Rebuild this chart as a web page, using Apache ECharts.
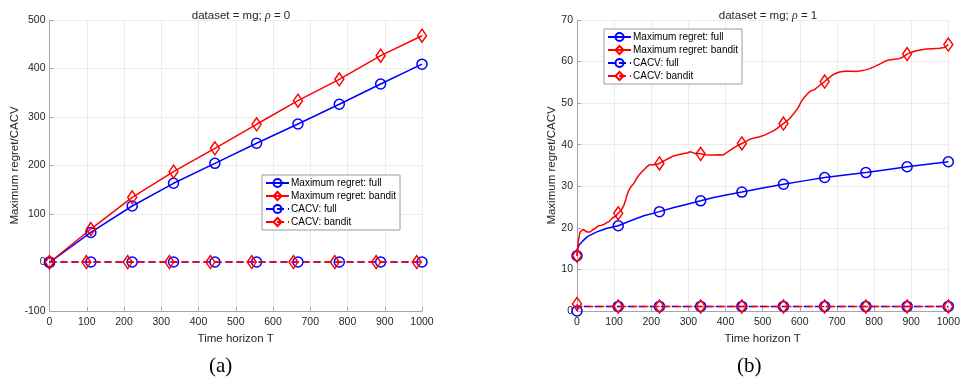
<!DOCTYPE html>
<html><head><meta charset="utf-8">
<script src="https://cdn.jsdelivr.net/npm/echarts@6/dist/echarts.min.js"></script>
<style>html,body{margin:0;padding:0;background:#fff}#c{width:963px;height:387px}</style>
</head><body><div id="c"></div>
<script>
// ---------- Data: panel (a) dataset = mg, rho = 0 ----------
const aRegretT = [0, 111, 222, 333, 444, 556, 667, 778, 889, 1000];
const aRegretFull = [0, 62, 116.5, 163.3, 204.5, 245.8, 285.6, 326.2, 368, 409];
const aRegretBandit = [0, 69, 134.4, 187.3, 235.4, 285, 333.6, 377.7, 426.4, 467.6];
const aCacvFullT = [0, 111, 222, 333, 444, 556, 667, 778, 889, 1000];
const aCacvFullV = [1, 1, 1, 1, 1, 1, 1, 1, 1, 1];
const aCacvBanditT = [0, 99, 210, 322, 432, 543, 655, 766, 877, 986, 1000];
const aCacvBanditV = [1, 1, 1, 1, 1, 1, 1, 1, 1, 1, 1];
const aCacvBanditMarks = [0, 99, 210, 322, 432, 543, 655, 766, 877, 986];

// ---------- Data: panel (b) dataset = mg, rho = 1 ----------
const bFullT = [0, 2, 5, 15, 28, 41, 55, 68, 81, 111, 144, 180, 222, 261, 297, 333, 368, 395, 444, 500, 556, 611, 667, 722, 778, 833, 889, 944, 1000];
const bFullV = [13.3, 15.0, 15.8, 16.8, 17.9, 18.5, 19.1, 19.5, 19.9, 20.5, 21.7, 22.9, 23.9, 24.9, 25.7, 26.5, 27.3, 27.8, 28.6, 29.6, 30.5, 31.3, 32.1, 32.7, 33.3, 34.0, 34.7, 35.3, 35.9];
const bBanditT = [0, 3, 5, 8, 12, 16, 21, 28, 35, 42, 50, 55, 59, 65, 72, 79, 86, 92, 97, 104, 108, 111, 116, 122, 127, 131, 135, 140, 146, 153, 160, 167, 173, 180, 187, 194, 200, 207, 214, 222, 230, 238, 249, 260, 273, 287, 296, 305, 312, 318, 325, 333, 345, 357, 370, 384, 393, 405, 420, 432, 444, 455, 465, 478, 492, 505, 519, 530, 540, 548, 556, 564, 573, 584, 595, 604, 613, 622, 631, 640, 650, 658, 667, 678, 689, 698, 707, 716, 725, 740, 752, 765, 777, 789, 801, 815, 828, 840, 850, 860, 868, 878, 889, 900, 913, 926, 940, 958, 976, 990, 995, 1000];
const bBanditV = [13.3, 16.5, 17.5, 19.0, 19.3, 19.6, 19.3, 19.0, 19.0, 19.5, 19.9, 20.4, 20.8, 20.6, 20.8, 21.2, 21.5, 22.0, 22.5, 22.8, 23.0, 23.5, 24.0, 24.7, 25.6, 26.7, 28.0, 29.1, 30.0, 30.7, 31.8, 32.7, 33.3, 33.9, 34.6, 35.1, 35.2, 35.2, 35.3, 35.5, 35.9, 36.3, 36.8, 37.3, 37.6, 37.9, 38.0, 38.3, 38.1, 37.9, 37.9, 37.8, 37.6, 37.5, 37.5, 37.6, 37.5, 38.2, 39.1, 39.8, 40.3, 40.8, 41.3, 41.6, 41.9, 42.3, 42.9, 43.4, 44.0, 44.6, 45.1, 45.6, 46.3, 47.5, 48.8, 50.4, 51.5, 52.4, 53.0, 53.3, 54.0, 54.6, 55.2, 56.0, 56.8, 57.2, 57.5, 57.6, 57.7, 57.7, 57.6, 57.8, 58.0, 58.3, 58.8, 59.4, 60.0, 60.4, 60.5, 60.6, 60.7, 61.1, 61.8, 62.2, 62.6, 62.8, 63.0, 63.1, 63.2, 63.4, 63.6, 64.1];
const bMarks = [0, 111, 222, 333, 444, 556, 667, 778, 889, 1000];
const bCacvFullT = [0, 1, 111, 222, 333, 444, 556, 667, 778, 889, 1000];
const bCacvFullV = [0, 1.1, 1.1, 1.1, 1.1, 1.1, 1.1, 1.1, 1.1, 1.1, 1.1];
const bCacvBanditT = [0, 3, 111, 222, 333, 444, 556, 667, 778, 889, 1000];
const bCacvBanditV = [1.7, 1.1, 1.1, 1.1, 1.1, 1.1, 1.1, 1.1, 1.1, 1.1, 1.1];

// ---------- Labels ----------
const seriesNames = ['Maximum regret: full', 'Maximum regret: bandit', 'CACV: full', 'CACV: bandit'];
const xTicks = [0, 100, 200, 300, 400, 500, 600, 700, 800, 900, 1000];
const aYTicks = [-100, 0, 100, 200, 300, 400, 500];
const bYTicks = [0, 10, 20, 30, 40, 50, 60, 70];

const BLUE = '#0000ff', RED = '#ff0000';
const TXT = '#262626';

function mk(name, idx, ts, vs, marks, color, sym, size, dashed, z) {
  const set = new Set(marks);
  return {
    name, type: 'line', xAxisIndex: idx, yAxisIndex: idx,
    data: ts.map((t, i) => set.has(t) ? { value: [t, vs[i]] } : { value: [t, vs[i]], symbol: 'none' }),
    symbol: sym, symbolSize: size, showSymbol: true, showAllSymbol: true,
    lineStyle: { color, width: 1.5, type: dashed ? [7, 4] : 'solid' },
    itemStyle: { color: 'rgba(255,255,255,0)', borderColor: color, borderWidth: 1.5 },
    emphasis: { disabled: true }, silent: true, z: z, clip: false
  };
}

function xAxis(idx) {
  return {
    type: 'value', gridIndex: idx, min: 0, max: 1000, interval: 100,
    name: 'Time horizon T', nameLocation: 'middle', nameGap: 19,
    nameTextStyle: { color: TXT, fontSize: 11.5, fontFamily: 'Liberation Sans' },
    axisLine: { show: true, onZero: false, lineStyle: { color: '#a6a6a6', width: 1 } },
    axisTick: { show: true, inside: true, length: 4, lineStyle: { color: '#a6a6a6' } },
    axisLabel: { color: TXT, fontSize: 10.5, fontFamily: 'Liberation Sans', margin: 6,
      formatter: v => xTicks.includes(v) ? String(v) : '' },
    splitLine: { show: true, lineStyle: { color: '#ececec', width: 1 } }
  };
}
function yAxis(idx, min, max, ticks, gap) {
  return {
    type: 'value', gridIndex: idx, min, max, interval: 10 * (idx === 0 ? 10 : 1),
    name: 'Maximum regret/CACV', nameLocation: 'middle', nameGap: gap,
    nameTextStyle: { color: TXT, fontSize: 11.5, fontFamily: 'Liberation Sans' },
    axisLine: { show: true, onZero: false, lineStyle: { color: '#a6a6a6', width: 1 } },
    axisTick: { show: true, inside: true, length: 4, lineStyle: { color: '#a6a6a6' } },
    axisLabel: { color: TXT, fontSize: 10.5, fontFamily: 'Liberation Sans', margin: 4,
      formatter: v => ticks.includes(v) ? String(v) : '' },
    splitLine: { show: true, lineStyle: { color: '#ececec', width: 1 } }
  };
}
function legend(left, top) {
  return {
    data: seriesNames, orient: 'vertical', left, top,
    itemWidth: 23, itemHeight: 10, itemGap: 1,
    padding: [2, 4, 2, 3],
    backgroundColor: '#ffffff', borderColor: '#9a9a9a', borderWidth: 1,
    textStyle: { color: '#000', fontSize: 10, fontFamily: 'Liberation Sans', lineHeight: 12, padding: [0, 0, 0, -3] },
    selectedMode: false
  };
}
function title(cx, rho) {
  return {
    text: '{n|dataset = mg; }{g|ρ}{n| = ' + rho + '}',
    left: cx, top: 5, textAlign: 'center',
    textStyle: { fontWeight: 'normal', rich: {
      n: { fontSize: 11.5, color: TXT, fontFamily: 'Liberation Sans', fontWeight: 'normal' },
      g: { fontSize: 12, color: TXT, fontFamily: 'Liberation Serif', fontStyle: 'italic', fontWeight: 'normal' }
    } }
  };
}

const chart = echarts.init(document.getElementById('c'), null, { renderer: 'canvas' });
chart.setOption({
  animation: false,
  backgroundColor: '#ffffff',
  title: [title(236, 0), title(763, 1)],
  grid: [
    { left: 49.5, top: 20, width: 372.5, height: 291 },
    { left: 577, top: 20, width: 372, height: 291 }
  ],
  xAxis: [xAxis(0), xAxis(1)],
  yAxis: [yAxis(0, -100, 500, aYTicks, 25), yAxis(1, 0, 70, bYTicks, 18)],
  legend: [legend(262, 175), legend(604, 29)],
  graphic: [
    { type: 'text', left: 209, top: 356, style: { text: '(a)', fontSize: 21, fontFamily: 'Liberation Serif', fill: '#000' } },
    { type: 'text', left: 737, top: 356, style: { text: '(b)', fontSize: 21, fontFamily: 'Liberation Serif', fill: '#000' } }
  ],
  series: [
    mk(seriesNames[0], 0, aRegretT, aRegretFull, aRegretT, BLUE, 'circle', 10, false, 2),
    mk(seriesNames[1], 0, aRegretT, aRegretBandit, aRegretT, RED, 'diamond', [9, 13], false, 3),
    mk(seriesNames[2], 0, aCacvFullT, aCacvFullV, aCacvFullT, BLUE, 'circle', 10, true, 4),
    mk(seriesNames[3], 0, aCacvBanditT, aCacvBanditV, aCacvBanditMarks, RED, 'diamond', [9, 13], true, 5),
    mk(seriesNames[0], 1, bFullT, bFullV, bMarks, BLUE, 'circle', 10, false, 2),
    mk(seriesNames[1], 1, bBanditT, bBanditV, bMarks, RED, 'diamond', [9, 13], false, 3),
    mk(seriesNames[2], 1, bCacvFullT, bCacvFullV, bMarks, BLUE, 'circle', 10, true, 4),
    mk(seriesNames[3], 1, bCacvBanditT, bCacvBanditV, bMarks, RED, 'diamond', [9, 13], true, 5)
  ]
});
</script></body></html>
